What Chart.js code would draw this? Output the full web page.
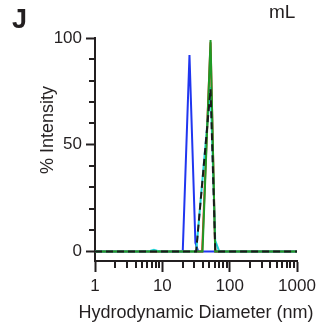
<!DOCTYPE html>
<html><head><meta charset="utf-8">
<script src="https://cdn.jsdelivr.net/npm/chart.js@4"></script>
<style>
html,body{margin:0;padding:0;background:#fff;width:320px;height:324px;overflow:hidden}
#wrap{position:relative;width:320px;height:324px}
canvas{position:absolute;left:0;top:0}
.lbl{position:absolute;font-family:"Liberation Sans",Arial,sans-serif;color:#231f20;line-height:1;white-space:nowrap}
#J{left:12px;top:6px;font-size:27px;font-weight:bold}
#mL{left:269px;top:2px;font-size:19px}
#xt{left:196px;top:312px;font-size:18px;transform:translate(-50%,-50%)}
#yt{left:47px;top:130px;font-size:18px;transform:translate(-50%,-50%) rotate(-90deg)}
</style></head><body>
<div id="wrap"><canvas id="c" width="320" height="324"></canvas>
<div class="lbl" id="J">J</div><div class="lbl" id="mL">mL</div>
<div class="lbl" id="xt"></div><div class="lbl" id="yt"></div></div>
<script>
// Hydrodynamic diameter (nm) and % intensity for each trace
const sizeBlue  = [1, 20.1, 25.3, 31.0, 34.0, 1000];
const intBlue   = [0, 0, 92, 4, 0, 0];
const sizeRed   = [1, 39.0, 52.0, 61.0, 1000];
const intRed    = [0, 0, 98, 0, 0];
const sizeCyan  = [1, 6.2, 7.5, 9.0, 31.8, 52.0, 61.0, 70.0, 1000];
const intCyan   = [0, 0, 0.8, 0, 0, 77, 5, 0, 0];
const sizeGreen = [1, 39.5, 52.0, 61.0, 1000];
const intGreen  = [0, 0, 99, 0, 0];
const sizeMean  = [1, 31.8, 52.0, 61.2, 1000];
const intMean   = [0, 0, 76, 0, 0];

const xMajorTicks = [1, 10, 100, 1000];
const xTickLabels = ['1', '10', '100', '1000'];
const xMinorTicks = [2,3,4,5,6,7,8,9,20,30,40,50,60,70,80,90,200,300,400,500,600,700,800,900];
const yMajorTicks = [0, 50, 100];
const yTickLabels = ['0', '50', '100'];
const yMinorTicks = [10,20,30,40,60,70,80,90];
const xTitle = 'Hydrodynamic Diameter (nm)';
const yTitle = '% Intensity';

document.getElementById('xt').textContent = xTitle;
document.getElementById('yt').textContent = yTitle;

const TXT = '#231f20';
const FAM = '"Liberation Sans", Arial, sans-serif';
const TICKFONT = {family: FAM, size: 17};

function pts(xs, ys){ return xs.map((x,i)=>({x, y: ys[i]})); }
function ds(label, xs, ys, color, order, dash){
  return {label, data: pts(xs, ys), borderColor: color, backgroundColor: color,
    borderWidth: 2, pointRadius: 0, showLine: true, tension: 0, fill: false,
    borderDash: dash || [], order};
}

const minorTicks = {
  id: 'minorTicks',
  afterDraw(chart){
    const ctx = chart.ctx, x = chart.scales.x, y = chart.scales.y;
    ctx.save();
    ctx.strokeStyle = TXT; ctx.lineWidth = 2;
    ctx.beginPath();
    xMinorTicks.forEach(v => { const p = Math.round(x.getPixelForValue(v)); ctx.moveTo(p, x.top); ctx.lineTo(p, x.top + 7); });
    yMinorTicks.forEach(v => { const p = Math.round(y.getPixelForValue(v)); ctx.moveTo(y.right - 6, p); ctx.lineTo(y.right, p); });
    ctx.stroke();
    ctx.restore();
  }
};

new Chart(document.getElementById('c'), {
  type: 'scatter',
  data: { datasets: [
    ds('Mean', sizeMean, intMean, '#1a1a1a', 0, [7,4]),
    ds('Green', sizeGreen, intGreen, '#1f9a25', 1),
    ds('Cyan', sizeCyan, intCyan, '#22d3d6', 2),
    ds('Red', sizeRed, intRed, '#e4281c', 3),
    ds('Blue', sizeBlue, intBlue, '#2036f0', 4)
  ]},
  options: {
    responsive: false, animation: false, devicePixelRatio: 1,
    layout: { padding: {left: 0, right: 23, top: 38, bottom: 0} },
    plugins: { legend: {display: false}, tooltip: {enabled: false} },
    scales: {
      x: {
        type: 'logarithmic', min: 1, max: 1000, position: 'bottom',
        afterBuildTicks: s => { s.ticks = xMajorTicks.map(v => ({value: v, major: true})); },
        afterFit: s => { s.height = 63; s.paddingLeft = 0; s.paddingRight = 0; },
        ticks: { callback: v => { const i = xMajorTicks.indexOf(v); return i >= 0 ? xTickLabels[i] : ''; },
                 font: TICKFONT, color: TXT, padding: 4, maxRotation: 0, autoSkip: false },
        grid: { drawOnChartArea: false, tickLength: 11, tickWidth: 2, tickColor: TXT },
        border: { color: TXT, width: 2 },
        title: { display: false }
      },
      y: {
        min: -4.5, max: 100, position: 'left',
        afterBuildTicks: s => { s.ticks = yMajorTicks.map(v => ({value: v})); },
        afterFit: s => { s.width = 95; s.paddingTop = 0; s.paddingBottom = 0; },
        ticks: { callback: v => { const i = yMajorTicks.indexOf(v); return i >= 0 ? yTickLabels[i] : ''; },
                 font: TICKFONT, color: TXT, padding: 4 },
        grid: { drawOnChartArea: false, tickLength: 9, tickWidth: 2, tickColor: TXT },
        border: { color: TXT, width: 2 },
        title: { display: false }
      }
    }
  },
  plugins: [minorTicks]
});
</script>
</body></html>
